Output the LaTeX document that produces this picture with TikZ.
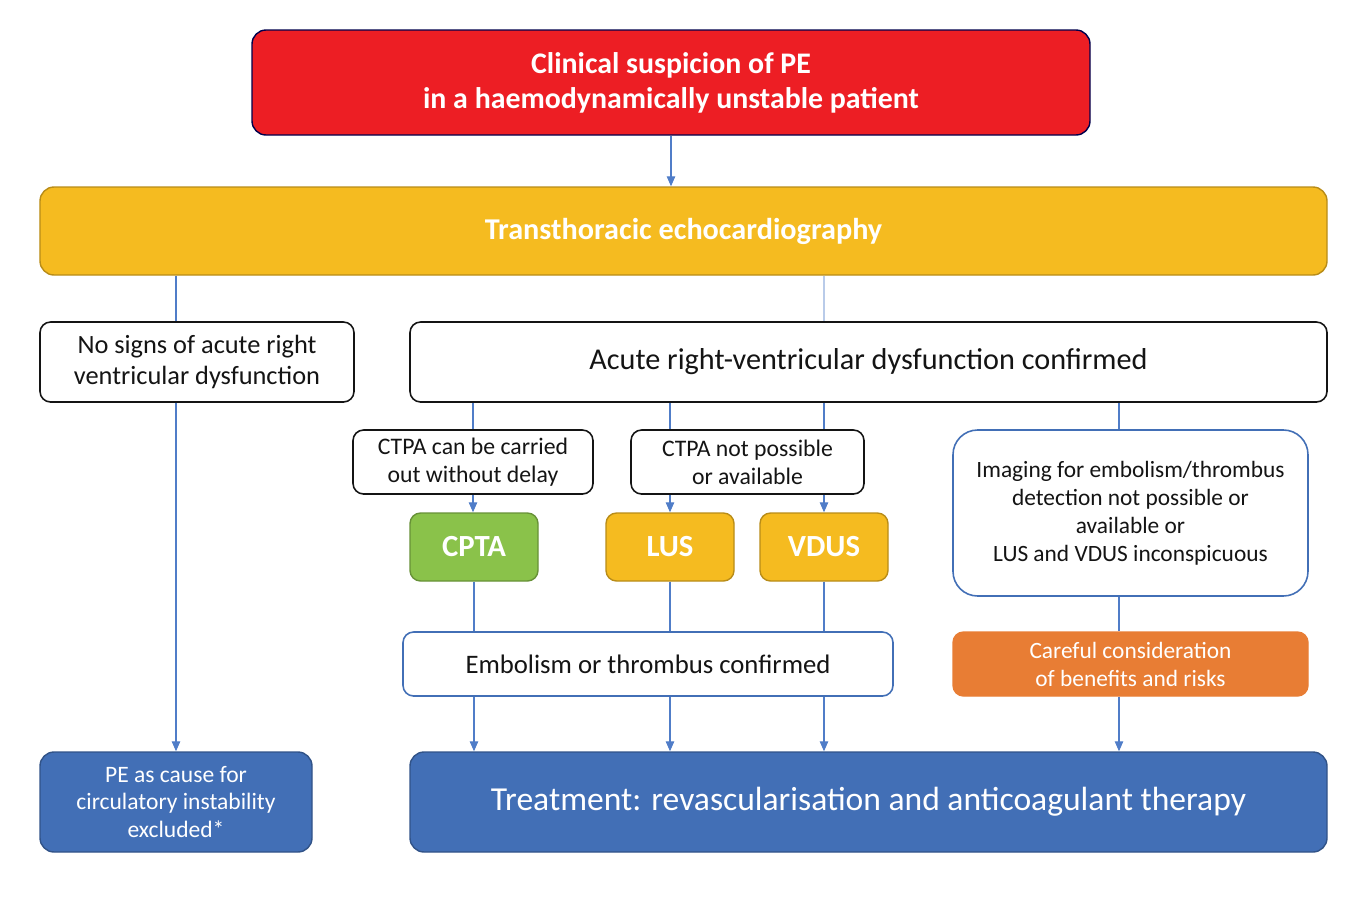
\documentclass[tikz,border=0pt]{standalone}
\usepackage{fontspec}
\setmainfont{Carlito}
\usetikzlibrary{arrows.meta,calc}
\definecolor{alarm}{RGB}{237,30,36}
\definecolor{gold}{RGB}{245,187,32}
\definecolor{leaf}{RGB}{138,194,74}
\definecolor{rust}{RGB}{232,125,52}
\definecolor{navy}{RGB}{66,111,182}
\definecolor{wire}{RGB}{80,125,200}
\definecolor{ink}{RGB}{20,20,20}
\tikzset{
  >={Triangle[length=2mm,width=1.7mm]},
  box/.style={draw=#1,fill=white,rounded corners=6pt,line width=0.9pt,
    inner sep=0pt,align=center,text=ink},
  box/.default=ink,
  solid box/.style={draw=#1!75!black,fill=#1,rounded corners=6pt,line width=0.8pt,
    inner sep=0pt,align=center,text=white},
  solid box/.default=navy,
  flow/.style={->,draw=wire,line width=0.6pt},
  link/.style={draw=wire,line width=0.6pt},
}
\begin{document}
\begin{tikzpicture}
  \useasboundingbox (0,0) rectangle (27.3,-18.18);
  % top
  \node[solid box=alarm,draw=black!70!blue,rounded corners=8pt,minimum width=16.76cm,minimum height=2.1cm,
    font=\fontsize{17}{19.8}\selectfont\bfseries] (suspicion) at (13.42,-1.65)
    {Clinical suspicion of PE\\in a haemodynamically unstable patient};
  \node[solid box=gold,minimum width=25.74cm,minimum height=1.76cm,rounded corners=8pt,
    font=\fontsize{17.2}{20}\selectfont\bfseries] (echo) at (13.67,-4.62) {Transthoracic echocardiography};
  % second row
  \node[box,minimum width=6.28cm,minimum height=1.6cm,font=\fontsize{15}{17.6}\selectfont] (nosigns) at (3.94,-7.24)
    {No signs of acute right\\ventricular dysfunction};
  \node[box,minimum width=18.34cm,minimum height=1.6cm,font=\fontsize{17.2}{20}\selectfont] (acute) at (17.37,-7.24)
    {Acute right-ventricular dysfunction confirmed};
  % conditions
  \node[box,minimum width=4.8cm,minimum height=1.28cm,font=\fontsize{13.5}{15.9}\selectfont] (ctpaok) at (9.46,-9.24)
    {CTPA can be carried\\out without delay};
  \node[box,minimum width=4.66cm,minimum height=1.28cm,font=\fontsize{13.5}{15.9}\selectfont] (ctpano) at (14.95,-9.24)
    {CTPA not possible\\or available};
  \node[box=navy,minimum width=7.1cm,minimum height=3.32cm,rounded corners=14pt,
    font=\fontsize{13.3}{15.9}\selectfont] (imaging) at (22.61,-10.26)
    {Imaging for embolism/thrombus\\detection not possible or\\available or\\LUS and VDUS inconspicuous};
  % imaging methods
  \node[solid box=leaf,minimum width=2.56cm,minimum height=1.36cm,font=\fontsize{17.5}{20}\selectfont\bfseries] (cpta) at (9.48,-10.94) {CPTA};
  \node[solid box=gold,minimum width=2.56cm,minimum height=1.36cm,font=\fontsize{17.5}{20}\selectfont\bfseries] (lus) at (13.40,-10.94) {LUS};
  \node[solid box=gold,minimum width=2.56cm,minimum height=1.36cm,font=\fontsize{17.5}{20}\selectfont\bfseries] (vdus) at (16.48,-10.94) {VDUS};
  % results
  \node[box=navy,minimum width=9.8cm,minimum height=1.28cm,font=\fontsize{15.2}{18}\selectfont] (embolism) at (12.96,-13.28)
    {Embolism or thrombus confirmed};
  \node[solid box=rust,draw=rust,minimum width=7.1cm,minimum height=1.28cm,font=\fontsize{13.3}{15.9}\selectfont] (careful) at (22.61,-13.28)
    {Careful consideration\\of benefits and risks};
  % outcomes
  \node[solid box,minimum width=5.44cm,minimum height=2cm,rounded corners=8pt,font=\fontsize{13.4}{15.9}\selectfont] (excluded) at (3.52,-16.04)
    {PE as cause for\\circulatory instability\\excluded*};
  \node[solid box,minimum width=18.34cm,minimum height=2cm,rounded corners=8pt,font=\fontsize{19.1}{22}\selectfont] (treatment) at (17.37,-16.04)
    {Treatment: revascularisation and anticoagulant therapy};
  \coordinate (rcol) at (22.38,0);
  % connectors
  \draw[flow] (suspicion.south) -- (suspicion.south |- echo.north);
  \draw[link] (excluded.north |- echo.south) -- (excluded.north |- nosigns.north);
  \draw[link,draw=wire!40] (vdus.north |- echo.south) -- (vdus.north |- acute.north);
  \draw[flow] (excluded.north |- nosigns.south) -- (excluded.north);
  \draw[link] (ctpaok.north |- acute.south) -- (ctpaok.north);
  \foreach \m in {lus,vdus}{
    \draw[link] (\m.north |- acute.south) -- (\m.north |- ctpano.north);
    \draw[flow] (\m.north |- ctpano.south) -- (\m.north);
  }
  \draw[flow] (ctpaok.south) -- (ctpaok.south |- cpta.north);
  \draw[link] (rcol |- acute.south) -- (rcol |- imaging.north);
  \foreach \m in {cpta,lus,vdus}{
    \draw[link] (\m.south) -- (\m.south |- embolism.north);
    \draw[flow] (\m.south |- embolism.south) -- (\m.south |- treatment.north);
  }
  \draw[link] (rcol |- imaging.south) -- (rcol |- careful.north);
  \draw[flow] (rcol |- careful.south) -- (rcol |- treatment.north);
\end{tikzpicture}
\end{document}
